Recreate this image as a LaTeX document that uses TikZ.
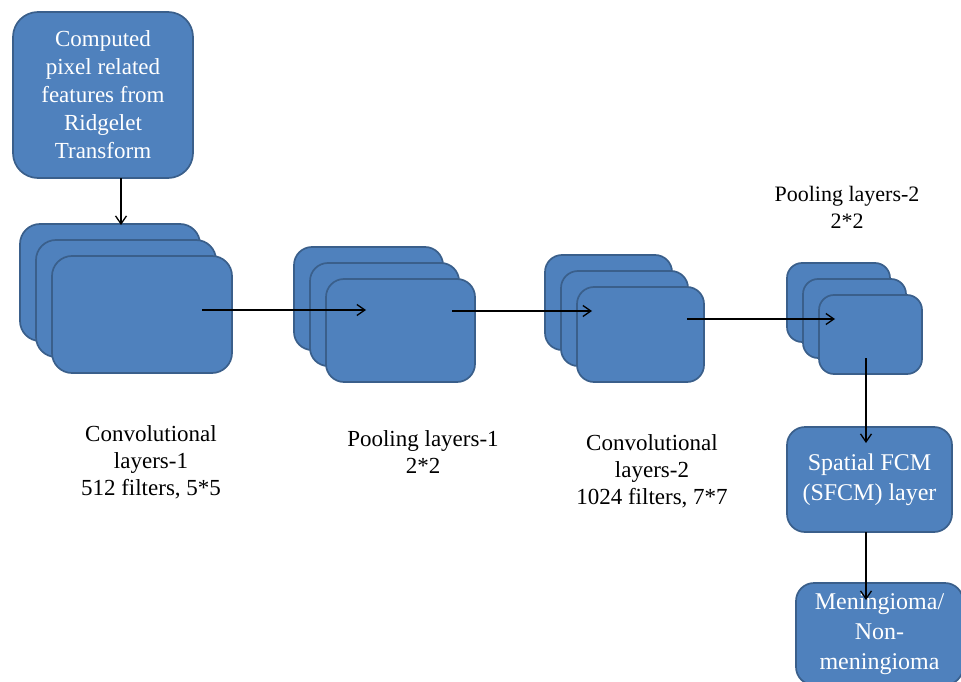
\documentclass[tikz,border=0pt]{standalone}
\usepackage{fontspec}
\setmainfont{Liberation Serif}
\usetikzlibrary{arrows.meta,calc}
\definecolor{boxfill}{HTML}{4F81BD}
\definecolor{boxline}{HTML}{3A5F8B}
\begin{document}
\begin{tikzpicture}[x=1pt,y=-1pt,
  blk/.style={rectangle, draw=boxline, line width=1.7pt, fill=boxfill, inner sep=0pt, text=white, align=center},
  lbl/.style={align=center, text=black, inner sep=0pt},
  conn/.style={-{Straight Barb[length=8pt,width=11pt]}, line width=1.3pt, black}
]
\useasboundingbox (0,0) rectangle (961,682);
\clip (0,0) rectangle (961,682);
% top box
\node[blk, rounded corners=25pt, minimum width=180pt, minimum height=166pt,
  font=\fontsize{23}{28}\selectfont] (top) at (103,95)
  {Computed\\pixel related\\features from\\Ridgelet\\Transform};
% conv1 stack
\foreach \i/\n in {0/c1a,1/c1b,2/c1c}
  \node[blk, rounded corners=20pt, minimum width=180pt, minimum height=117pt] (\n) at (110+16*\i,282.5+16*\i) {};
% pool1 stack
\foreach \i/\n in {0/p1a,1/p1b,2/p1c}
  \node[blk, rounded corners=18pt, minimum width=149pt, minimum height=103pt] (\n) at (368.5+16*\i,298.5+16*\i) {};
% conv2 stack
\foreach \i/\n in {0/c2a,1/c2b,2/c2c}
  \node[blk, rounded corners=17pt, minimum width=127pt, minimum height=95pt] (\n) at (608.5+16*\i,302.5+16*\i) {};
% pool2 stack
\foreach \i/\n in {0/p2a,1/p2b,2/p2c}
  \node[blk, rounded corners=15pt, minimum width=103pt, minimum height=79pt] (\n) at (838.5+16*\i,302.5+16*\i) {};
% SFCM
\node[blk, rounded corners=18pt, minimum width=165pt, minimum height=105pt,
  font=\fontsize{24}{30}\selectfont] (sfcm) at (869.5,479.5)
  {Spatial FCM\\(SFCM) layer};
% output
\node[blk, rounded corners=18pt, minimum width=167pt, minimum height=102pt,
  font=\fontsize{24}{30}\selectfont] (out) at (879.5,634)
  {Meningioma/\\Non-\\meningioma};
% labels
\node[lbl, font=\fontsize{23}{27}\selectfont] (l1) at (151,462) {Convolutional\\layers-1\\512 filters, 5*5};
\node[lbl, font=\fontsize{23}{27}\selectfont] (l2) at (423,452) {Pooling layers-1\\2*2};
\node[lbl, font=\fontsize{23}{27}\selectfont] (l3) at (652,471) {Convolutional\\layers-2\\1024 filters, 7*7};
\node[lbl, font=\fontsize{22}{27}\selectfont] (l4) at (847,207) {Pooling layers-2\\2*2};
% connector end points
\coordinate (a0s) at (121,178);
\coordinate (a0e) at (121,225);
\coordinate (a1s) at (202,310);
\coordinate (a1e) at (366,310);
\coordinate (a2s) at (452,311);
\coordinate (a2e) at (592,311);
\coordinate (a3s) at (687,319);
\coordinate (a3e) at (835,319);
\coordinate (a4s) at (866,358);
\coordinate (a4e) at (866,443);
\coordinate (a5s) at (866,532);
\coordinate (a5e) at (866,600);
\draw[conn] (a0s) -- (a0e);
\draw[conn] (a1s) -- (a1e);
\draw[conn] (a2s) -- (a2e);
\draw[conn] (a3s) -- (a3e);
\draw[conn] (a4s) -- (a4e);
\draw[conn] (a5s) -- (a5e);
\end{tikzpicture}
\end{document}
